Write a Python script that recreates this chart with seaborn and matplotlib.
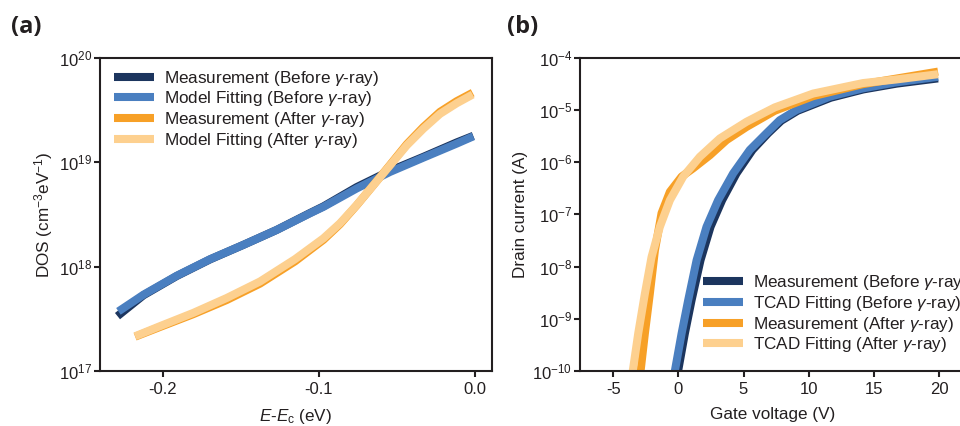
import numpy as np
import pandas as pd
import matplotlib
matplotlib.use("Agg")
import matplotlib.pyplot as plt
from matplotlib.lines import Line2D
from matplotlib.ticker import LogLocator, LogFormatterSciNotation, NullLocator, FixedLocator
import seaborn as sns

# ---------------- (a) density of states vs E - Ec (eV) ----------------
e_before_meas = [-0.2290, -0.2124, -0.1911, -0.1697, -0.1484, -0.1270, -0.1185, -0.1057,
                 -0.0971, -0.0758, -0.0544, -0.0331, -0.0117, -0.0011]
dos_before_meas = [3.35e17, 5.3e17, 8.1e17, 1.17e18, 1.61e18, 2.24e18, 2.60e18, 3.25e18,
                   3.76e18, 5.75e18, 8.25e18, 1.12e19, 1.54e19, 1.78e19]

e_before_fit = [-0.2284, -0.2124, -0.1911, -0.1697, -0.1484, -0.1270, -0.1185, -0.1057,
                -0.0971, -0.0758, -0.0544, -0.0331, -0.0117, -0.0011]
dos_before_fit = [3.72e17, 5.37e17, 8.15e17, 1.175e18, 1.61e18, 2.24e18, 2.59e18, 3.23e18,
                  3.72e18, 5.58e18, 8.04e18, 1.10e19, 1.50e19, 1.76e19]

e_after_meas = [-0.2177, -0.2017, -0.1804, -0.1590, -0.1377, -0.1153, -0.0971, -0.0865,
                -0.0758, -0.0651, -0.0544, -0.0437, -0.0331, -0.0224, -0.0117, -0.0015]
dos_after_meas = [2.13e17, 2.64e17, 3.50e17, 4.78e17, 6.86e17, 1.12e18, 1.80e18, 2.54e18,
                  3.85e18, 6.0e18, 9.4e18, 1.48e19, 2.16e19, 3.02e19, 3.82e19, 4.6e19]

e_after_fit = [-0.2177, -0.2017, -0.1804, -0.1590, -0.1377, -0.1153, -0.0971, -0.0865,
               -0.0758, -0.0651, -0.0544, -0.0437, -0.0331, -0.0224, -0.0117, -0.0015]
dos_after_fit = [2.15e17, 2.69e17, 3.60e17, 5.00e17, 7.19e17, 1.175e18, 1.86e18, 2.59e18,
                 3.87e18, 6.00e18, 9.29e18, 1.442e19, 2.08e19, 2.89e19, 3.65e19, 4.42e19]

labels_a = [r"Measurement (Before $\mathit{γ}$-ray)", r"Model Fitting (Before $\mathit{γ}$-ray)",
            r"Measurement (After $\mathit{γ}$-ray)", r"Model Fitting (After $\mathit{γ}$-ray)"]

# ---------------- (b) drain current vs gate voltage (V) ----------------
vg_before_meas = [-0.02, 0.50, 1.01, 1.70, 2.47, 3.36, 4.46, 5.69, 6.89, 7.9, 9.15,
                  11.7, 14.2, 16.75, 19.93]
id_before_meas = [1.0e-10, 5.25e-10, 2.24e-9, 1.32e-8, 5.75e-8, 1.86e-7, 6.03e-7, 1.70e-6,
                  3.55e-6, 6.17e-6, 9.55e-6, 1.70e-5, 2.45e-5, 3.16e-5, 3.98e-5]

vg_before_fit = [-0.27, 0.25, 0.75, 1.40, 2.16, 3.05, 4.20, 5.48, 6.76, 7.78, 9.06,
                 11.62, 14.17, 16.73, 19.93]
id_before_fit = [1.0e-10, 5.25e-10, 2.24e-9, 1.32e-8, 5.75e-8, 1.86e-7, 6.03e-7, 1.70e-6,
                 3.55e-6, 6.31e-6, 9.86e-6, 1.78e-5, 2.57e-5, 3.35e-5, 4.27e-5]

vg_after_meas = [-2.9, -2.57, -2.19, -1.80, -1.29, -0.65, 0.25, 1.14, 2.42, 3.70, 5.23,
                 7.4, 10.34, 14.17, 19.93]
id_after_meas = [1.0e-10, 5.25e-10, 3.02e-9, 2.04e-8, 1.05e-7, 2.69e-7, 5.25e-7, 7.59e-7,
                 1.35e-6, 2.63e-6, 4.68e-6, 9.55e-6, 1.82e-5, 3.09e-5, 5.37e-5]

vg_after_fit = [-3.5, -3.08, -2.57, -2.06, -1.42, -0.65, 0.37, 1.65, 3.18, 5.23, 7.4,
                10.34, 14.17, 16.73, 19.93]
id_after_fit = [1.0e-10, 5.25e-10, 3.02e-9, 1.51e-8, 5.75e-8, 1.86e-7, 5.25e-7, 1.26e-6,
                2.82e-6, 5.89e-6, 1.11e-5, 2.04e-5, 3.24e-5, 3.80e-5, 4.79e-5]

labels_b = [r"Measurement (Before $\mathit{γ}$-ray)", r"TCAD Fitting (Before $\mathit{γ}$-ray)",
            r"Measurement (After $\mathit{γ}$-ray)", r"TCAD Fitting (After $\mathit{γ}$-ray)"]

colors = ["#1c355e", "#4a7fc0", "#f7a027", "#fdd08f"]

LW = 5.8
INK = "#231f20"
FS_TICK = 12
FS_TEXT = 12.3

sns.set_style("ticks")
plt.rcParams["font.family"] = ["Liberation Sans", "DejaVu Sans"]
plt.rcParams["mathtext.fontset"] = "custom"
plt.rcParams["mathtext.rm"] = "Liberation Sans"
plt.rcParams["mathtext.it"] = "Liberation Sans:italic"
plt.rcParams["mathtext.default"] = "regular"
plt.rcParams["axes.unicode_minus"] = False


def long_frame(xs, ys, names):
    parts = []
    for x, y, n in zip(xs, ys, names):
        parts.append(pd.DataFrame({"x": x, "y": y, "series": n}))
    return pd.concat(parts, ignore_index=True)


def style_axis(ax):
    for s in ax.spines.values():
        s.set_linewidth(1.5)
        s.set_color(INK)
    ax.tick_params(axis="both", which="major", direction="out", length=4,
                   width=1.5, color=INK, labelsize=FS_TICK, labelcolor=INK)
    ax.tick_params(axis="y", pad=1.5)
    ax.tick_params(axis="x", pad=4)
    ax.yaxis.set_minor_locator(NullLocator())


def draw_curves(ax, df, names):
    sns.lineplot(data=df, x="x", y="y", hue="series", hue_order=names,
                 palette=dict(zip(names, colors)), sort=False, estimator=None,
                 lw=LW, solid_capstyle="butt", solid_joinstyle="round",
                 ax=ax, legend=False)
    ax.set_yscale("log")
    ax.yaxis.set_major_locator(LogLocator(base=10, numticks=10))
    ax.yaxis.set_major_formatter(LogFormatterSciNotation())


def add_legend(ax, names, anchor, loc):
    handles = [Line2D([], [], color=c, lw=LW, solid_capstyle="butt") for c in colors]
    ax.legend(handles, names, loc=loc, bbox_to_anchor=anchor,
              bbox_transform=fig.transFigure, borderaxespad=0, frameon=False,
              fontsize=FS_TEXT, handlelength=2.3, handletextpad=0.6, labelspacing=0.1,
              labelcolor=INK)


fig = plt.figure(figsize=(9.6, 4.26), dpi=100)
bottom = (426 - 371) / 426
height = 313.5 / 426
ax_a = fig.add_axes([100 / 960, bottom, 391.7 / 960, height])
ax_b = fig.add_axes([580 / 960, bottom, 385 / 960, height])

# panel (a)
df_a = long_frame([e_before_meas, e_before_fit, e_after_meas, e_after_fit],
                  [dos_before_meas, dos_before_fit, dos_after_meas, dos_after_fit],
                  labels_a)
draw_curves(ax_a, df_a, labels_a)
ax_a.set_ylim(1e17, 1e20)
ax_a.set_xlim(-0.2402, 0.0107)
ax_a.xaxis.set_major_locator(FixedLocator([-0.2, -0.1, 0.0]))
ax_a.set_xticklabels(["-0.2", "-0.1", "0.0"])
style_axis(ax_a)
ax_a.set_xlabel(r"$\mathit{E}$-$\mathit{E}_\mathrm{c}$ (eV)", fontsize=FS_TEXT,
                color=INK, labelpad=7)
ax_a.set_ylabel(r"DOS (cm$^{-3}$eV$^{-1}$)", fontsize=FS_TEXT, color=INK, labelpad=3)
add_legend(ax_a, labels_a, (0.112, 0.855), "upper left")

# panel (b)
df_b = long_frame([vg_before_meas, vg_before_fit, vg_after_meas, vg_after_fit],
                  [id_before_meas, id_before_fit, id_after_meas, id_after_fit],
                  labels_b)
draw_curves(ax_b, df_b, labels_b)
ax_b.set_ylim(1e-10, 1e-4)
ax_b.set_xlim(-7.55, 22.0)
ax_b.xaxis.set_major_locator(FixedLocator([-5, 0, 5, 10, 15, 20]))
ax_b.set_xticklabels(["-5", "0", "5", "10", "15", "20"])
style_axis(ax_b)
ax_b.set_xlabel("Gate voltage (V)", fontsize=FS_TEXT, color=INK, labelpad=7)
ax_b.set_ylabel("Drain current (A)", fontsize=FS_TEXT, color=INK, labelpad=3)
add_legend(ax_b, labels_b, (0.7256, 0.152), "lower left")

# panel letters
fig.text(11 / 960, 1 - 27 / 426, "(a)", fontsize=17, fontweight="bold",
         family=["Open Sans", "DejaVu Sans"], va="center", ha="left", color=INK)
fig.text(507 / 960, 1 - 27 / 426, "(b)", fontsize=17, fontweight="bold",
         family=["Open Sans", "DejaVu Sans"], va="center", ha="left", color=INK)

fig.savefig("out.png", dpi=100)
